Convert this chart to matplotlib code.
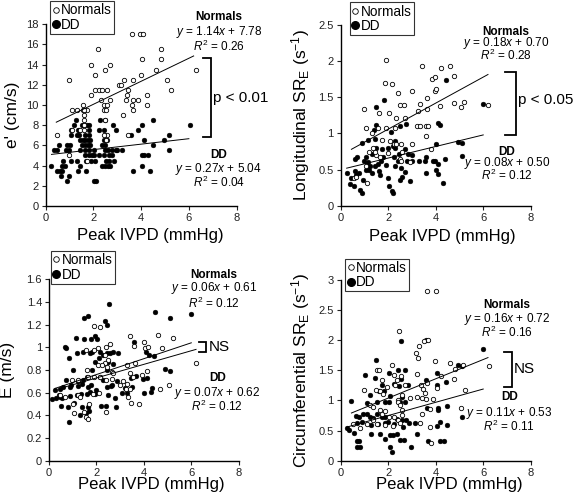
import numpy as np
import matplotlib
matplotlib.use("Agg")
import matplotlib.pyplot as plt
from matplotlib.lines import Line2D

plt.rcParams['font.family'] = ['Liberation Sans', 'DejaVu Sans']
plt.rcParams['mathtext.fontset'] = 'custom'
plt.rcParams['mathtext.rm'] = 'Liberation Sans'
plt.rcParams['mathtext.it'] = 'Liberation Sans:italic'
plt.rcParams['mathtext.bf'] = 'Liberation Sans:bold'

# e' (cm/s) vs peak IVPD
e_norm = [(3.63, 17), (3.95, 17), (4.1, 17), (2.19, 15.5), (4.83, 15.5), (1.91, 14), (2.69, 14),
          (2.51, 13.5), (4.04, 14.5), (4.83, 14.5), (0.98, 12.5), (2.06, 13), (6.28, 13.5), (4.64, 13.5),
          (4.0, 13), (5.1, 12.5), (5.27, 11.5), (3.3, 12.5), (3.68, 12.5), (3.07, 12), (3.17, 12),
          (3.47, 11.5), (2.09, 11.5), (2.23, 11.5), (2.38, 11.5), (2.57, 11.5), (1.92, 11), (3.39, 11),
          (4.23, 11), (2.33, 10.5), (2.69, 10.5), (3.38, 10.5), (3.65, 10.5), (3.85, 10.5), (4.23, 10),
          (2.45, 10), (2.58, 10), (3.61, 10), (1.58, 10), (1.09, 9.5), (1.32, 9.5), (1.73, 9.5),
          (1.55, 9.5), (1.63, 9.5), (2.44, 9.5), (2.55, 9.5), (3.68, 9.5), (3.24, 9), (1.62, 9),
          (1.63, 8.5), (1.63, 8), (2.48, 8.5), (0.5, 7), (1.12, 7.5), (1.45, 7.5), (2.58, 7), (3.47, 7),
          (1.0, 5), (2.55, 6.5), (1.75, 4.5), (2.45, 7), (1.6, 7.5)]
e_dd = [(2.02, 2.5), (2.1, 2.5), (0.9, 2.5), (0.63, 3), (0.98, 3), (0.46, 3.5), (0.59, 3.5), (0.67, 3.5),
        (1.35, 3.5), (1.7, 3.5), (3.67, 3.5), (4.39, 3.5), (0.25, 4), (0.67, 4), (0.8, 4), (1.44, 4),
        (2.37, 4), (2.48, 4), (2.6, 4), (2.69, 4), (4.05, 4), (0.73, 4.5), (1.06, 4.5), (1.32, 4.5),
        (1.7, 4.5), (1.91, 4.5), (2.09, 4.5), (2.52, 4.5), (2.65, 4.5), (2.86, 4.5), (4.03, 5), (4.12, 5),
        (4.28, 5), (1.65, 5), (1.81, 5), (1.95, 5), (2.04, 5), (2.23, 5), (2.45, 5), (2.65, 5), (2.79, 5),
        (0.36, 5.5), (0.46, 5.5), (0.84, 5.5), (0.98, 5.5), (1.46, 5.5), (1.67, 5.5), (1.81, 5.5),
        (2.02, 5.5), (2.48, 5.5), (2.61, 5.5), (2.79, 5.5), (2.93, 5.5), (3.01, 5.5), (3.21, 5.5),
        (5.16, 5.5), (0.56, 6), (0.9, 6), (1.02, 6), (1.53, 6), (1.65, 6), (1.76, 6), (1.86, 6), (2.37, 6),
        (2.51, 6), (4.5, 6), (1.46, 6.5), (1.56, 6.5), (1.67, 6.5), (1.77, 6.5), (1.87, 6.5), (2.43, 6.5),
        (2.59, 6.5), (4.13, 6.5), (4.97, 6.5), (1.06, 7), (1.3, 7), (1.4, 7), (1.67, 7), (1.81, 7),
        (3.56, 7), (1.06, 7.5), (1.34, 7.5), (1.42, 7.5), (1.81, 7.5), (2.23, 7.5), (2.45, 7.5),
        (2.97, 7.5), (1.19, 8), (1.51, 8), (1.62, 8), (1.73, 8), (1.83, 8), (2.82, 8), (4.04, 8),
        (6.04, 8), (1.26, 8.5), (2.26, 8.5), (2.5, 8.5), (4.48, 8.5), (5.16, 7), (3.87, 7.5)]

# longitudinal SR_E vs peak IVPD
l_norm = [(1.89, 2.01), (3.44, 1.93), (4.21, 1.91), (4.59, 1.93), (1.86, 1.70), (2.17, 1.68), (3.86, 1.75),
          (3.96, 1.78), (4.79, 1.79), (2.4, 1.56), (3.01, 1.59), (3.96, 1.59), (4.03, 1.62), (3.64, 1.49),
          (0.97, 1.34), (1.63, 1.29), (2.05, 1.29), (2.5, 1.39), (2.65, 1.39), (3.35, 1.41), (3.24, 1.31),
          (3.62, 1.34), (4.2, 1.38), (4.75, 1.42), (5.05, 1.36), (5.2, 1.43), (6.2, 1.40), (2.31, 1.21),
          (2.72, 1.21), (1.07, 1.07), (1.57, 1.08), (1.9, 1.08), (2.27, 1.07), (3.2, 1.1), (3.34, 1.1),
          (3.58, 1.1), (3.67, 1.1), (1.32, 1.0), (3.6, 0.96), (1.74, 0.91), (2.08, 0.89), (2.25, 0.85),
          (2.53, 0.85), (3.02, 0.85), (1.34, 0.80), (2.6, 0.75), (2.48, 0.64), (0.55, 0.38), (0.66, 0.40),
          (1.11, 0.32), (2.33, 0.86), (1.5, 0.70), (1.65, 0.68), (1.2, 0.75), (2.9, 0.6), (2.0, 0.73),
          (1.43, 0.74), (3.8, 0.78), (1.05, 0.55), (2.55, 0.62)]
l_dd = [(1.81, 1.46), (1.49, 1.36), (4.44, 1.74), (6.0, 1.41), (2.5, 1.11), (4.1, 1.14), (4.18, 1.12),
        (1.15, 0.91), (0.9, 0.87), (1.45, 0.92), (2.3, 0.9), (2.1, 1.02), (2.75, 1.13), (1.5, 1.12),
        (1.38, 1.05), (0.6, 0.65), (0.7, 0.67), (1.05, 0.68), (1.3, 0.72), (1.5, 0.8), (1.75, 0.78),
        (2.0, 0.8), (2.2, 0.83), (2.3, 0.8), (2.45, 0.72), (2.7, 0.78), (2.85, 0.72), (3.0, 0.7),
        (3.6, 0.68), (4.0, 0.85), (4.95, 0.88), (5.1, 0.87), (0.25, 0.45), (0.4, 0.3), (0.45, 0.38),
        (0.55, 0.28), (0.65, 0.42), (0.75, 0.45), (0.8, 0.22), (0.9, 0.17), (0.95, 0.35), (1.05, 0.5),
        (1.1, 0.55), (1.15, 0.6), (1.2, 0.5), (1.3, 0.45), (1.45, 0.55), (1.55, 0.58), (1.6, 0.48),
        (1.7, 0.62), (1.8, 0.68), (1.9, 0.56), (2.0, 0.38), (2.05, 0.28), (2.15, 0.2), (2.2, 0.18),
        (2.3, 0.55), (2.4, 0.62), (2.5, 0.36), (2.6, 0.4), (2.7, 0.47), (2.9, 0.34), (3.0, 0.62),
        (3.3, 0.62), (3.6, 0.45), (3.9, 0.62), (3.95, 0.62), (4.0, 0.5), (4.1, 0.44), (4.3, 0.32),
        (4.4, 0.65), (4.1, 0.58), (5.1, 0.69), (3.55, 0.62), (2.8, 0.62), (1.0, 0.62), (1.25, 0.55),
        (0.6, 0.48), (1.65, 0.42), (2.55, 0.52), (2.25, 0.67)]

# E (m/s) vs peak IVPD
E_norm = [(1.9, 1.19), (2.16, 1.18), (2.58, 1.03), (2.39, 1.0), (3.43, 1.1), (4.02, 1.05), (4.6, 1.11),
          (5.22, 1.08), (1.56, 0.98), (1.91, 0.98), (2.05, 0.99), (2.34, 0.93), (2.48, 0.89), (2.34, 0.86),
          (3.6, 1.01), (4.05, 0.99), (4.19, 1.0), (4.78, 0.99), (3.62, 0.86), (3.28, 0.84), (6.2, 0.86),
          (2.08, 0.84), (2.25, 0.84), (2.43, 0.83), (1.59, 0.8), (2.64, 0.78), (2.71, 0.77), (3.42, 0.77),
          (4.12, 0.79), (0.96, 0.71), (1.24, 0.71), (1.66, 0.74), (1.91, 0.74), (2.15, 0.74), (2.39, 0.71),
          (3.1, 0.70), (3.28, 0.68), (3.91, 0.76), (3.56, 0.74), (0.46, 0.58), (0.67, 0.56), (1.24, 0.58),
          (1.31, 0.56), (1.87, 0.59), (2.12, 0.6), (3.0, 0.67), (3.25, 0.63), (3.42, 0.63), (3.35, 0.56),
          (3.46, 0.51), (3.81, 0.5), (4.69, 0.63), (5.04, 0.67), (1.07, 0.42), (1.49, 0.43), (1.56, 0.39),
          (1.63, 0.37), (2.4, 0.43), (1.0, 0.5), (1.7, 0.5), (2.65, 0.72)]
E_dd = [(2.55, 1.38), (1.49, 1.26), (1.66, 1.28), (2.36, 1.23), (2.43, 1.20), (4.47, 1.31), (5.1, 1.26),
        (5.99, 1.29), (1.13, 1.08), (1.48, 1.07), (1.76, 1.07), (2.04, 1.07), (0.67, 1.0), (0.73, 0.99),
        (0.84, 0.91), (1.17, 0.95), (1.45, 0.96), (1.73, 0.95), (1.8, 0.96), (2.15, 0.96), (2.29, 0.93),
        (2.43, 0.95), (2.57, 0.95), (2.71, 0.96), (2.9, 0.95), (3.6, 1.05), (4.1, 0.96), (4.23, 0.93),
        (4.44, 0.92), (1.94, 0.87), (2.12, 0.91), (2.47, 0.87), (2.71, 0.85), (1.03, 0.80), (1.8, 0.8),
        (2.45, 0.8), (0.7, 0.71), (0.93, 0.67), (1.24, 0.70), (1.45, 0.71), (1.59, 0.74), (2.15, 0.74),
        (2.29, 0.71), (2.64, 0.67), (2.85, 0.70), (3.46, 0.73), (3.66, 0.75), (3.98, 0.72), (4.12, 0.73),
        (4.9, 0.81), (5.1, 0.79), (0.25, 0.62), (0.46, 0.63), (0.6, 0.65), (0.88, 0.65), (1.24, 0.66),
        (1.38, 0.68), (1.66, 0.65), (1.77, 0.67), (2.43, 0.65), (2.6, 0.66), (3.21, 0.64), (3.52, 0.65),
        (4.0, 0.6), (4.3, 0.61), (4.34, 0.64), (0.3, 0.55), (0.46, 0.56), (0.56, 0.55), (0.89, 0.57),
        (1.17, 0.58), (1.35, 0.59), (1.59, 0.59), (1.73, 0.61), (1.94, 0.59), (2.5, 0.58), (2.78, 0.55),
        (3.07, 0.6), (3.28, 0.6), (0.51, 0.48), (0.82, 0.47), (1.07, 0.51), (1.38, 0.47), (1.66, 0.47),
        (2.18, 0.48), (2.4, 0.48), (2.83, 0.47), (0.85, 0.34), (1.31, 0.40), (1.57, 0.42), (1.7, 0.44),
        (0.12, 0.54), (0.4, 0.58), (2.0, 0.62), (1.95, 1.1)]

# circumferential SR_E vs peak IVPD
c_norm = [(3.65, 2.82), (4.0, 2.82), (2.47, 2.15), (3.31, 1.91), (3.5, 1.99), (3.69, 2.0), (3.16, 1.79),
          (3.27, 1.71), (3.97, 1.66), (2.17, 1.59), (4.62, 1.62), (4.83, 1.52), (5.13, 1.59), (6.23, 1.57),
          (1.53, 1.51), (1.6, 1.51), (0.97, 1.17), (1.5, 1.17), (1.74, 1.34), (2.26, 1.42), (2.38, 1.34),
          (2.52, 1.40), (3.2, 1.44), (3.4, 1.26), (3.62, 1.29), (4.22, 1.40), (4.77, 1.35), (5.23, 1.18),
          (2.71, 1.26), (2.57, 1.09), (2.4, 1.0), (2.28, 1.26), (1.93, 1.23), (1.66, 1.16), (1.77, 1.11),
          (2.92, 1.04), (3.2, 1.05), (3.41, 1.04), (3.55, 1.12), (3.45, 1.19), (3.6, 1.03), (3.9, 1.03),
          (4.04, 1.20), (1.23, 0.92), (1.37, 0.90), (1.65, 0.84), (1.75, 0.77), (1.88, 0.82), (2.43, 0.98),
          (2.5, 0.92), (2.6, 0.84), (2.6, 0.76), (2.05, 0.73), (2.25, 0.73), (2.4, 0.67), (3.44, 0.77),
          (3.76, 0.86), (5.05, 0.87), (0.53, 0.61), (1.1, 0.61), (1.35, 0.67), (1.52, 0.61), (1.85, 0.59),
          (2.5, 0.62), (3.34, 0.62), (3.76, 0.56), (3.82, 0.30), (0.8, 0.55), (2.2, 0.57)]
c_dd = [(2.52, 1.99), (3.6, 2.0), (6.01, 1.86), (4.95, 1.59), (5.09, 1.58), (1.5, 1.68), (1.02, 1.43),
        (1.44, 1.38), (1.72, 1.26), (2.05, 1.45), (2.43, 1.51), (2.52, 1.36), (2.71, 1.51), (2.26, 1.27),
        (2.47, 1.24), (2.85, 1.26), (3.6, 1.34), (4.04, 1.26), (4.43, 1.30), (4.04, 1.45), (0.43, 0.99),
        (1.23, 1.09), (1.63, 1.15), (1.84, 1.16), (2.08, 1.07), (1.09, 0.95), (1.51, 0.97), (1.87, 0.98),
        (2.05, 0.98), (2.56, 1.06), (2.5, 0.98), (2.72, 0.98), (3.62, 0.87), (4.11, 0.87), (4.08, 0.84),
        (4.46, 0.91), (0.64, 0.74), (0.78, 0.73), (0.95, 0.77), (1.09, 0.77), (1.23, 0.73), (1.37, 0.71),
        (1.52, 0.77), (1.72, 0.73), (1.86, 0.73), (2.35, 0.70), (2.56, 0.68), (2.75, 0.68), (2.89, 0.63),
        (0.7, 0.62), (0.88, 0.65), (1.26, 0.59), (1.58, 0.61), (1.86, 0.63), (2.0, 0.65), (2.26, 0.61),
        (2.64, 0.56), (3.13, 0.63), (4.07, 0.58), (4.18, 0.65), (5.09, 0.73), (0.25, 0.55), (0.36, 0.51),
        (0.57, 0.46), (0.67, 0.33), (0.78, 0.33), (1.26, 0.44), (1.65, 0.44), (1.86, 0.36), (2.08, 0.43),
        (2.22, 0.43), (2.36, 0.44), (2.5, 0.34), (2.67, 0.35), (2.18, 0.15), (2.08, 0.23), (0.67, 0.23),
        (0.81, 0.23), (2.96, 0.23), (3.69, 0.32), (4.18, 0.32), (4.34, 0.33), (4.49, 0.59), (3.2, 0.45)]

# regression fits (slope, intercept, R2) as printed
fit_norm = [(1.14, 7.78, 0.26), (0.18, 0.70, 0.28), (0.06, 0.61, 0.12), (0.16, 0.72, 0.16)]
fit_dd = [(0.27, 5.04, 0.04), (0.08, 0.50, 0.12), (0.07, 0.62, 0.12), (0.11, 0.53, 0.11)]

ylabels = ["e' (cm/s)", r"Longitudinal SR$_\mathregular{E}$ (s$^{\mathregular{-1}}$)", "E (m/s)",
           r"Circumferential SR$_\mathregular{E}$ (s$^{\mathregular{-1}}$)"]
yticks = [np.arange(0, 18.1, 2), np.arange(0, 2.51, 0.5), np.arange(0, 1.61, 0.2), np.arange(0, 3.01, 0.5)]
ytick_labels = [[str(int(v)) for v in yticks[0]],
                ['0', '0.5', '1', '1.5', '2', '2.5'],
                ['0', '0.2', '0.4', '0.6', '0.8', '1', '1.2', '1.4', '1.6'],
                ['0', '0.5', '1', '1.5', '2', '2.5', '3']]
sig_labels = ['p < 0.01', 'p < 0.05', 'NS', 'NS']

# layout (figure fractions) and annotation placements
axes_rects = [[0.0793, 0.5855, 0.333, 0.366], [0.5936, 0.586, 0.331, 0.3636],
              [0.0854, 0.073, 0.3305, 0.365], [0.5936, 0.073, 0.331, 0.3636]]
ylab_x = [-0.133, -0.153, -0.18, -0.153]
xlab_pos = [(0.55, -0.12), (0.536, -0.13), (0.537, -0.092), (0.57, -0.09)]
leg_pos = [(0.024, 1.125), (0.049, 1.125), (0.009, 1.155), (0.023, 1.118)]
# (x, y_title, y_eq, y_r2) for Normals and DD text blocks
norm_txt = [(7.25, 18.7, 17.2, 15.8), (6.95, 2.41, 2.25, 2.08), (6.95, 1.64, 1.52, 1.39), (6.99, 2.59, 2.35, 2.13)]
dd_txt = [(7.25, 5.05, 3.66, 2.3), (7.0, 0.75, 0.59, 0.42), (7.1, 0.727, 0.6, 0.476), (7.1, 1.06, 0.80, 0.575)]
# bracket: x vertical, x tick end, y top, y bottom, text x, text y
brackets = [(6.91, 6.6, 14.65, 6.83, 7.03, 10.7), (7.39, 6.9, 1.845, 0.978, 7.48, 1.46),
            (6.62, 6.34, 1.05, 0.96, 6.72, 1.005), (7.2, 6.88, 1.80, 1.23, 7.27, 1.52)]

panels = [(e_norm, e_dd), (l_norm, l_dd), (E_norm, E_dd), (c_norm, c_dd)]

fig = plt.figure(figsize=(5.74, 4.97), dpi=100)

for i in range(4):
    ax = fig.add_axes(axes_rects[i])
    nrm = np.array(panels[i][0])
    dd = np.array(panels[i][1])
    ax.scatter(dd[:, 0], dd[:, 1], s=12, c='black', edgecolors='black', linewidths=0.3, zorder=3)
    ax.scatter(nrm[:, 0], nrm[:, 1], s=10, facecolors='white', edgecolors='black', linewidths=0.6, zorder=4)

    # fit lines
    a, b, r2n = fit_norm[i]
    xs = np.array([0.45, 6.2])
    ax.plot(xs, a * xs + b, color='black', lw=0.7, zorder=5)
    a2, b2, r2d = fit_dd[i]
    xs2 = np.array([0.25, 6.0])
    ax.plot(xs2, a2 * xs2 + b2, color='black', lw=0.7, zorder=5)

    ax.set_xlim(0, 8)
    ax.set_ylim(yticks[i][0], yticks[i][-1])
    ax.set_xticks([0, 2, 4, 6, 8])
    ax.set_yticks(yticks[i])
    ax.set_yticklabels(ytick_labels[i])
    ax.tick_params(labelsize=8, length=3, width=0.8, direction='out', pad=2, colors='#222222')
    for sp in ['top', 'right']:
        ax.spines[sp].set_visible(False)
    for sp in ['left', 'bottom']:
        ax.spines[sp].set_linewidth(1.0)
    ax.set_ylabel(ylabels[i], fontsize=12.5)
    ax.yaxis.set_label_coords(ylab_x[i], 0.5)
    ax.set_xlabel("Peak IVPD (mmHg)", fontsize=12)
    ax.xaxis.set_label_coords(*xlab_pos[i])

    # regression text
    tx, ty1, ty2, ty3 = norm_txt[i]
    ax.text(tx, ty1, "Normals", fontsize=8.5, fontweight='bold', ha='center', va='center', clip_on=False)
    ax.text(tx, ty2, r"$\mathit{y}$ = %.2f$\mathit{x}$ + %.2f" % (a, b), fontsize=8.5,
            ha='center', va='center', clip_on=False)
    ax.text(tx, ty3, r"$\mathit{R}^\mathregular{2}$ = %.2f" % r2n, fontsize=8.5,
            ha='center', va='center', clip_on=False)
    tx, ty1, ty2, ty3 = dd_txt[i]
    ax.text(tx, ty1, "DD", fontsize=8.5, fontweight='bold', ha='center', va='center', clip_on=False)
    ax.text(tx, ty2, r"$\mathit{y}$ = %.2f$\mathit{x}$ + %.2f" % (a2, b2), fontsize=8.5,
            ha='center', va='center', clip_on=False)
    ax.text(tx, ty3, r"$\mathit{R}^\mathregular{2}$ = %.2f" % r2d, fontsize=8.5,
            ha='center', va='center', clip_on=False)

    # significance bracket
    bx, bx0, byt, byb, stx, sty = brackets[i]
    ax.plot([bx0, bx, bx, bx0], [byt, byt, byb, byb], color='black', lw=1.3, clip_on=False,
            solid_joinstyle='miter')
    ax.text(stx, sty, sig_labels[i], fontsize=11, ha='left', va='center', clip_on=False)

    # legend
    handles = [Line2D([], [], ls='none', marker='o', ms=4, mfc='white', mec='black', mew=0.6),
               Line2D([], [], ls='none', marker='o', ms=5.5, mfc='black', mec='black')]
    leg = ax.legend(handles, ['Normals', 'DD'], loc='upper left', bbox_to_anchor=leg_pos[i],
                    frameon=True, fancybox=False, edgecolor='black', fontsize=9.8,
                    handlelength=0.5, handletextpad=0.15, borderpad=0.15, labelspacing=0.05,
                    borderaxespad=0)
    leg.get_frame().set_linewidth(0.8)

fig.savefig('out.png', dpi=100)
